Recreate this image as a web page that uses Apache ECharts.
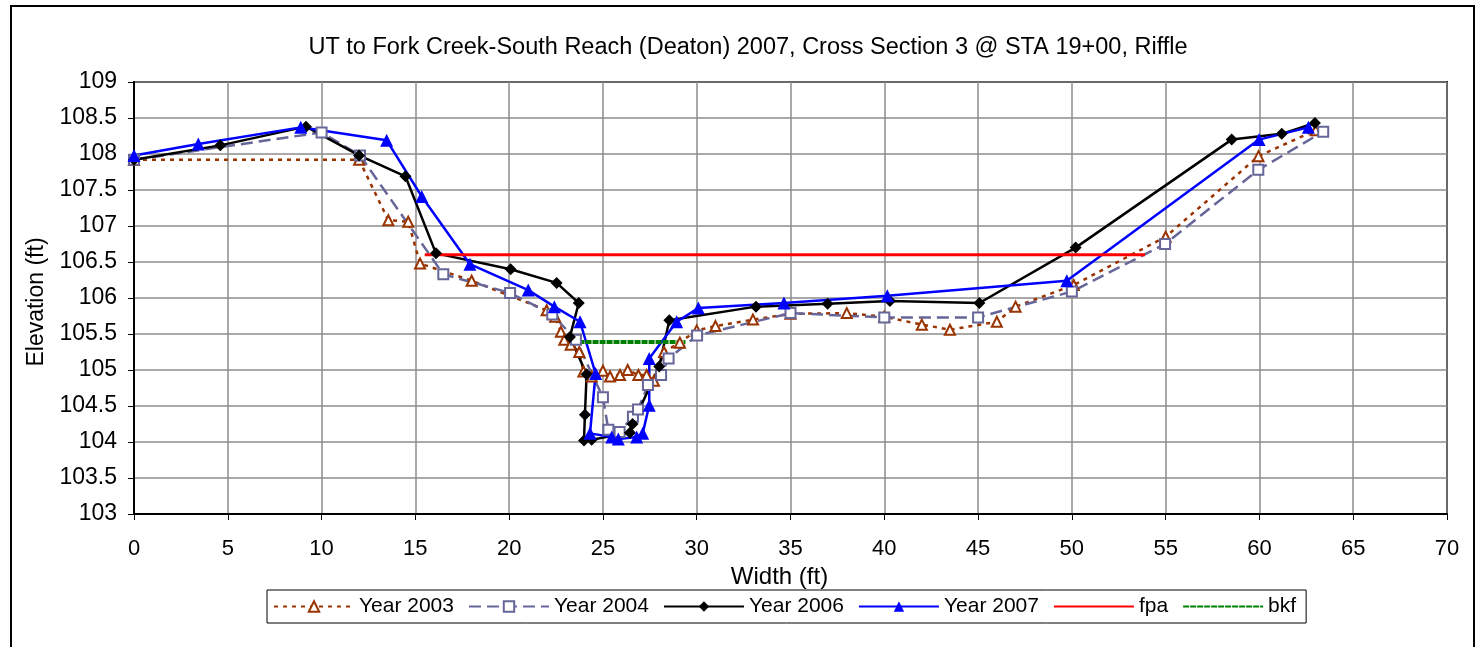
<!DOCTYPE html>
<html>
<head>
<meta charset="utf-8">
<script src="https://cdn.jsdelivr.net/npm/echarts@6/dist/echarts.min.js"></script>
<style>
html,body{margin:0;padding:0;background:#fff;}
#chart{width:1479px;height:647px;}
</style>
</head>
<body>
<div id="chart"></div>
<script>
const titleText = 'UT to Fork Creek-South Reach (Deaton) 2007, Cross Section 3 @ STA 19+00, Riffle';
const seriesNames = ['Year 2003', 'Year 2004', 'Year 2006', 'Year 2007', 'fpa', 'bkf'];

const x2003 = [0, 12.0, 13.56, 14.62, 15.25, 18.0, 22.0, 22.45, 22.76, 22.94, 23.28, 23.74, 23.96, 24.4, 25.0, 25.38, 25.91, 26.32, 26.89, 27.33, 27.72, 28.26, 29.1, 30.0, 31.0, 33.0, 35.0, 38.0, 40.0, 42.0, 43.5, 46.0, 47.0, 50.1, 55.0, 59.95, 63.0];
const y2003 = [107.92, 107.92, 107.08, 107.06, 106.48, 106.24, 105.83, 105.74, 105.53, 105.42, 105.35, 105.25, 104.98, 104.91, 104.99, 104.91, 104.93, 105.0, 104.93, 104.93, 104.85, 105.25, 105.38, 105.55, 105.61, 105.70, 105.78, 105.79, 105.74, 105.63, 105.56, 105.67, 105.88, 106.18, 106.85, 107.97, 108.33];

const x2004 = [0, 10.0, 12.05, 16.49, 20.05, 22.3, 23.56, 25.0, 25.29, 25.89, 26.6, 26.87, 27.4, 28.1, 28.5, 30.02, 35.0, 40.0, 45.0, 50.0, 54.97, 59.94, 63.4];
const y2004 = [107.92, 108.30, 107.98, 106.33, 106.07, 105.77, 105.42, 104.62, 104.17, 104.14, 104.35, 104.45, 104.79, 104.93, 105.16, 105.48, 105.79, 105.73, 105.73, 106.09, 106.75, 107.78, 108.31];

const x2006 = [0, 4.6, 9.17, 12.0, 14.47, 16.1, 20.08, 22.53, 23.71, 23.24, 24.13, 24.04, 23.99, 24.4, 26.44, 26.58, 28.0, 28.54, 33.16, 36.98, 40.3, 45.07, 50.2, 58.52, 61.19, 62.96];
const y2006 = [107.92, 108.12, 108.38, 107.98, 107.69, 106.62, 106.40, 106.21, 105.93, 105.46, 104.94, 104.38, 104.02, 104.03, 104.13, 104.25, 105.05, 105.69, 105.88, 105.92, 105.96, 105.93, 106.70, 108.20, 108.28, 108.43];

const x2007 = [0, 3.43, 8.89, 13.47, 15.34, 17.91, 21.02, 22.41, 23.78, 24.61, 24.31, 25.47, 25.82, 26.8, 27.12, 27.47, 27.47, 28.93, 30.09, 34.65, 40.16, 49.73, 59.98, 62.61];
const y2007 = [107.98, 108.14, 108.37, 108.19, 107.41, 106.47, 106.11, 105.88, 105.67, 104.95, 104.12, 104.07, 104.04, 104.07, 104.12, 104.51, 105.16, 105.67, 105.86, 105.93, 106.03, 106.24, 108.20, 108.37];

const xFpa = [15.5, 53.9];
const yFpa = [106.6, 106.6];

const xBkf = [23.7, 29.4];
const yBkf = [105.39, 105.39];

const xTicks = {min: 0, max: 70, interval: 5};
const yTicks = {min: 103, max: 109, interval: 0.5};

function zip(xs, ys) { return xs.map((x, i) => [x, ys[i]]); }

const FONT = 'Liberation Sans';
const chart = echarts.init(document.getElementById('chart'), null, {renderer: 'canvas'});

chart.setOption({
  backgroundColor: '#ffffff',
  animation: false,
  title: {
    text: titleText,
    left: 748, top: 36, textAlign: 'center', padding: 0,
    textStyle: {fontFamily: FONT, fontSize: 23.5, fontWeight: 'normal', color: '#000'}
  },
  graphic: [{
    type: 'rect', shape: {x: 11, y: 6, width: 1463, height: 660},
    style: {fill: 'none', stroke: '#000', lineWidth: 2}, silent: true
  }],
  legend: {
    data: [
      seriesNames[0], seriesNames[1], seriesNames[2], seriesNames[3],
      {name: seriesNames[4], itemStyle: {opacity: 0}},
      {name: seriesNames[5], itemStyle: {opacity: 0}}
    ],
    left: 267, top: 590,
    itemWidth: 80, itemHeight: 13, itemGap: 14,
    padding: [6, 10, 6, 6],
    borderColor: '#000', borderWidth: 1,
    textStyle: {fontFamily: FONT, fontSize: 21, color: '#000'}
  },
  grid: {
    left: 134, right: 32, top: 82, bottom: 133,
    show: true, borderColor: '#000', borderWidth: 2, backgroundColor: 'transparent'
  },
  xAxis: {
    type: 'value', min: xTicks.min, max: xTicks.max, interval: xTicks.interval,
    name: 'Width (ft)', nameLocation: 'middle', nameGap: 37,
    nameTextStyle: {fontFamily: FONT, fontSize: 24, color: '#000', padding: [0, 22, 0, 0]},
    axisLine: {show: true, onZero: false, lineStyle: {color: '#000', width: 2}},
    axisTick: {show: true, inside: false, length: 6, lineStyle: {color: '#000'}},
    axisLabel: {fontFamily: FONT, fontSize: 22, color: '#000', margin: 24},
    splitLine: {show: true, lineStyle: {color: '#8c8c8c', width: 1.5}}
  },
  yAxis: {
    type: 'value', min: yTicks.min, max: yTicks.max, interval: yTicks.interval,
    name: 'Elevation (ft)', nameLocation: 'middle', nameGap: 84, nameRotate: 90,
    nameTextStyle: {fontFamily: FONT, fontSize: 23, color: '#000', padding: [0, 8, 0, 0]},
    axisLine: {show: true, onZero: false, lineStyle: {color: '#000', width: 2}},
    axisTick: {show: true, inside: false, length: 6, lineStyle: {color: '#000'}},
    axisLabel: {fontFamily: FONT, fontSize: 23, color: '#000', margin: 17},
    splitLine: {show: true, lineStyle: {color: '#8c8c8c', width: 1.5}}
  },
  series: [
    {
      name: seriesNames[0], type: 'line', data: zip(x2003, y2003),
      symbol: 'emptyTriangle', symbolSize: 10,
      itemStyle: {color: '#993300', borderWidth: 2},
      lineStyle: {color: '#993300', width: 2.5, type: [4, 5]}
    },
    {
      name: seriesNames[1], type: 'line', data: zip(x2004, y2004),
      symbol: 'emptyRect', symbolSize: 10,
      itemStyle: {color: '#666699', borderWidth: 2},
      lineStyle: {color: '#666699', width: 2.5, type: [12, 6]}
    },
    {
      name: seriesNames[2], type: 'line', data: zip(x2006, y2006),
      symbol: 'diamond', symbolSize: 12,
      itemStyle: {color: '#000000'},
      lineStyle: {color: '#000000', width: 2.5}
    },
    {
      name: seriesNames[3], type: 'line', data: zip(x2007, y2007),
      symbol: 'triangle', symbolSize: 13,
      itemStyle: {color: '#0000ff'},
      lineStyle: {color: '#0000ff', width: 2.5}
    },
    {
      name: seriesNames[4], type: 'line', data: zip(xFpa, yFpa),
      symbol: 'none', showSymbol: false,
      itemStyle: {color: '#ff0000'},
      lineStyle: {color: '#ff0000', width: 3}
    },
    {
      name: seriesNames[5], type: 'line', data: zip(xBkf, yBkf),
      symbol: 'none', showSymbol: false,
      itemStyle: {color: '#008000'},
      lineStyle: {color: '#008000', width: 4, type: [6, 1]}
    }
  ]
});
</script>
</body>
</html>
